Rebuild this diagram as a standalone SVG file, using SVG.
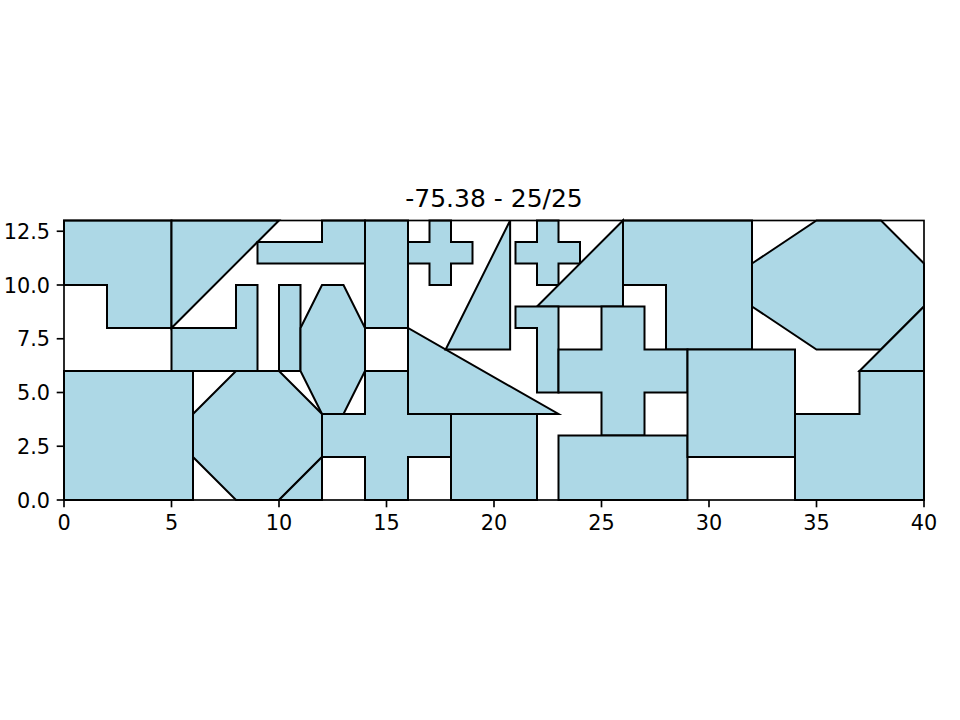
<svg xmlns="http://www.w3.org/2000/svg" width="960" height="720" viewBox="0 0 960 720">
<style>
.p{fill:#ADD8E6;stroke:#000;stroke-width:2;stroke-linejoin:miter;vector-effect:non-scaling-stroke}
.ax{fill:none;stroke:#000;stroke-width:1.67;stroke-linecap:square}
.tk{stroke:#000;stroke-width:1.67}
.tl{font-family:"DejaVu Sans",sans-serif;font-size:20.8px;fill:#000}
.tt{font-family:"DejaVu Sans",sans-serif;font-size:25px;fill:#000}
</style>
<rect width="960" height="720" fill="#fff"/>
<g id="shapes" transform="translate(64,500) scale(21.5,-21.5)">
<g id="s1"><polygon class="p" points="0,13 5,13 5,8 2,8 2,10 0,10"/></g>
<g id="s2"><polygon class="p" points="5,8 5,13 10,13"/></g>
<g id="s3"><polygon class="p" points="9,11 14,11 14,13 12,13 12,12 9,12"/></g>
<g id="s4"><polygon class="p" points="14,8 16,8 16,13 14,13"/></g>
<g id="s5"><polygon class="p" points="5,6 9,6 9,10 8,10 8,8 5,8"/></g>
<g id="s6"><polygon class="p" points="10,6 11,6 11,10 10,10"/></g>
<g id="s7"><polygon class="p" points="11,8 12,10 13,10 14,8 14,6 13,4 12,4 11,6"/></g>
<g id="s8"><polygon class="p" points="0,0 6,0 6,6 0,6"/></g>
<g id="s9"><polygon class="p" points="6,2 6,4 8,6 10,6 12,4 12,2 10,0 8,0"/></g>
<g id="s10"><polygon class="p" points="10,0 12,0 12,2"/></g>
<g id="s11"><polygon class="p" points="12,2 14,2 14,0 16,0 16,2 18,2 18,4 16,4 16,6 14,6 14,4 12,4"/></g>
<g id="s12"><polygon class="p" points="16,8 16,4 23,4"/></g>
<g id="s13"><polygon class="p" points="18,0 22,0 22,4 18,4"/></g>
<g id="s14"><polygon class="p" points="16,12 17,12 17,13 18,13 18,12 19,12 19,11 18,11 18,10 17,10 17,11 16,11"/></g>
<g id="s15"><polygon class="p" points="17.75,7 20.75,7 20.75,13"/></g>
<g id="s16"><polygon class="p" points="21,12 22,12 22,13 23,13 23,12 24,12 24,11 23,11 23,10 22,10 22,11 21,11"/></g>
<g id="s17"><polygon class="p" points="22,9 26,13 26,9"/></g>
<g id="s18"><polygon class="p" points="26,10 26,13 32,13 32,7 28,7 28,10"/></g>
<g id="s19"><polygon class="p" points="21,9 23,9 23,5 22,5 22,8 21,8"/></g>
<g id="s20"><polygon class="p" points="23,5 23,7 25,7 25,9 27,9 27,7 29,7 29,5 27,5 27,3 25,3 25,5"/></g>
<g id="s21"><polygon class="p" points="23,0 29,0 29,3 23,3"/></g>
<g id="s22"><polygon class="p" points="29,2 34,2 34,7 29,7"/></g>
<g id="s23"><polygon class="p" points="32,11 35,13 38,13 40,11 40,9 38,7 35,7 32,9"/></g>
<g id="s24"><polygon class="p" points="37,6 40,9 40,6"/></g>
<g id="s25"><polygon class="p" points="34,0 40,0 40,6 37,6 37,4 34,4"/></g>
</g>
<g id="axes">
<rect class="ax" x="64" y="220.5" width="860" height="279.5"/>
<g id="xticks">
<line class="tk" x1="64" y1="500" x2="64" y2="507.3"/>
<line class="tk" x1="171.5" y1="500" x2="171.5" y2="507.3"/>
<line class="tk" x1="279" y1="500" x2="279" y2="507.3"/>
<line class="tk" x1="386.5" y1="500" x2="386.5" y2="507.3"/>
<line class="tk" x1="494" y1="500" x2="494" y2="507.3"/>
<line class="tk" x1="601.5" y1="500" x2="601.5" y2="507.3"/>
<line class="tk" x1="709" y1="500" x2="709" y2="507.3"/>
<line class="tk" x1="816.5" y1="500" x2="816.5" y2="507.3"/>
<line class="tk" x1="924" y1="500" x2="924" y2="507.3"/>
<g class="tl" text-anchor="middle">
<text x="64" y="530">0</text>
<text x="171.5" y="530">5</text>
<text x="279" y="530">10</text>
<text x="386.5" y="530">15</text>
<text x="494" y="530">20</text>
<text x="601.5" y="530">25</text>
<text x="709" y="530">30</text>
<text x="816.5" y="530">35</text>
<text x="924" y="530">40</text>
</g>
</g>
<g id="yticks">
<line class="tk" x1="56.7" y1="500" x2="64" y2="500"/>
<line class="tk" x1="56.7" y1="446.25" x2="64" y2="446.25"/>
<line class="tk" x1="56.7" y1="392.5" x2="64" y2="392.5"/>
<line class="tk" x1="56.7" y1="338.75" x2="64" y2="338.75"/>
<line class="tk" x1="56.7" y1="285" x2="64" y2="285"/>
<line class="tk" x1="56.7" y1="231.25" x2="64" y2="231.25"/>
<g class="tl" text-anchor="end">
<text x="50" y="507.5">0.0</text>
<text x="50" y="453.75">2.5</text>
<text x="50" y="400">5.0</text>
<text x="50" y="346.25">7.5</text>
<text x="50" y="292.5">10.0</text>
<text x="50" y="238.75">12.5</text>
</g>
</g>
<text class="tt" x="494" y="207" text-anchor="middle">-75.38 - 25/25</text>
</g>
</svg>
